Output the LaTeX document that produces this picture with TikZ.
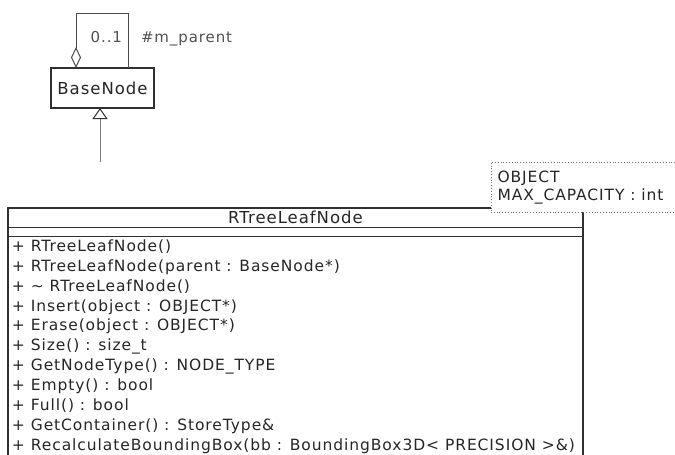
\documentclass[tikz,border=0pt]{standalone}
\usepackage{fontspec}
\setmainfont{DejaVu Sans}[LetterSpace=6]
\usetikzlibrary{arrows.meta}
\definecolor{txt}{HTML}{262626}
\definecolor{softtxt}{HTML}{505050}
\definecolor{edge}{HTML}{303030}
\definecolor{assoc}{HTML}{4A4A4A}
\definecolor{genline}{HTML}{808080}
\definecolor{tmplline}{HTML}{707070}
\begin{document}
\begin{tikzpicture}[x=1pt,y=-1pt,
  every node/.style={inner sep=0pt, outer sep=0pt},
  titletext/.style={font=\fontsize{16.5}{18}\selectfont, text=txt},
  membtext/.style={font=\fontsize{15.5}{17}\selectfont, text=txt},
  labeltext/.style={font=\fontsize{15}{17}\selectfont, text=softtxt},
  classbox/.style={draw=edge, fill=white, line width=1.2pt},
  sepline/.style={draw=edge, line width=1pt},
  tmplbox/.style={draw=tmplline, dotted, fill=white, line width=0.8pt},
  genarrow/.style={draw=genline, line width=1pt, -{Triangle[open, length=11pt, width=15pt, line width=1pt, color=edge, fill=white]}},
  aggrline/.style={draw=assoc, line width=1pt, {Diamond[open, length=21pt, width=10pt, line width=1pt, fill=white]}-}]
\useasboundingbox (0,0) rectangle (675,455);

% parent class
\node[classbox, titletext, minimum width=103pt, minimum height=40pt] (base) at (102.5,88) {BaseNode};

% self association (aggregation) on BaseNode
\draw[aggrline] ([xshift=-26.5pt]base.north) -- ++(0,-55) -| ([xshift=25.5pt]base.north);
\node[labeltext, anchor=base east] (mult) at (122,42) {0..1};
\node[labeltext, anchor=base west] (role) at (141,42) {\#m\_parent};

% generalisation coming up from the leaf class
\coordinate (gentail) at (100,162);
\draw[genarrow] (gentail) -- (gentail |- base.south);

% leaf class compartment box
\node[classbox, anchor=north west, minimum width=575pt, minimum height=270pt] (cls) at (8,208) {};
\node[titletext] (title) at ([yshift=-9.5pt]cls.north) {RTreeLeafNode};
\draw[sepline] ([yshift=-19pt]cls.north west) -- ([yshift=-19pt]cls.north east);
\draw[sepline] ([yshift=-28pt]cls.north west) -- ([yshift=-28pt]cls.north east);

% operations
\foreach \op [count=\i] in {
  {+ RTreeLeafNode()},
  {+ RTreeLeafNode(parent : BaseNode*)},
  {+ \textasciitilde{} RTreeLeafNode()},
  {+ Insert(object : OBJECT*)},
  {+ Erase(object : OBJECT*)},
  {+ Size() : size\_t},
  {+ GetNodeType() : NODE\_TYPE},
  {+ Empty() : bool},
  {+ Full() : bool},
  {+ GetContainer() : StoreType\&},
  {+ RecalculateBoundingBox(bb : BoundingBox3D< PRECISION >\&)}}
  \node[membtext, anchor=base west] (op\i) at (12, 251.5 + 19.85*\i - 19.85) {\op};

% template parameters
\node[tmplbox, anchor=north west, minimum width=200pt, minimum height=50pt] (tpl) at (491,162) {};
\node[membtext, anchor=base west] (tp1) at (497.5,182.5) {OBJECT};
\node[membtext, anchor=base west] (tp2) at (497.5,200.5) {MAX\_CAPACITY : int};
\end{tikzpicture}
\end{document}
